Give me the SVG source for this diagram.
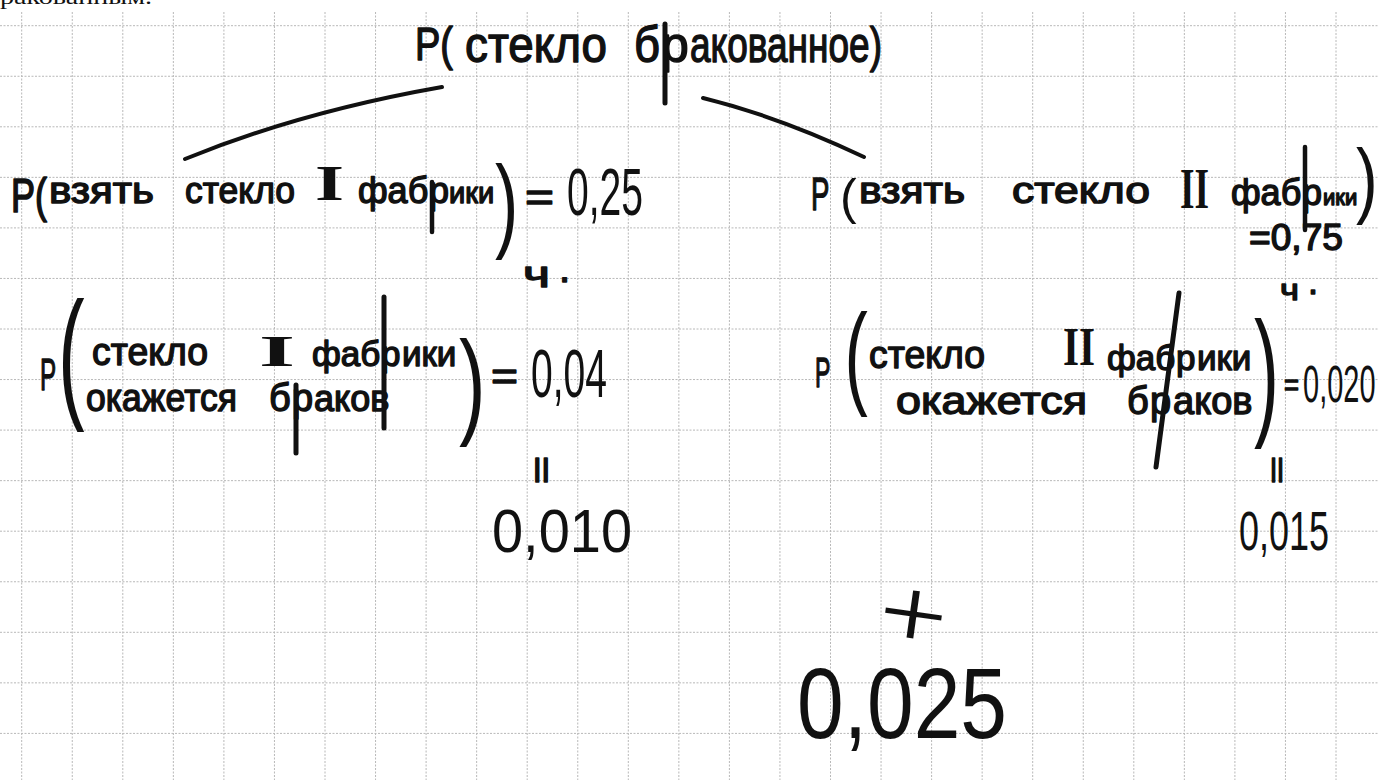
<svg xmlns="http://www.w3.org/2000/svg" width="1378" height="780" viewBox="0 0 1378 780">
  <style>
    .grid line { stroke: #b8b8b8; stroke-width: 1; stroke-dasharray: 2 1.5; }
    .hw { font-family: "Liberation Sans", "DejaVu Sans", sans-serif; fill: #111; }
    .st { stroke: #111; stroke-width: 1.4; stroke-linejoin: round; }
    .rm { font-family: "Liberation Serif", serif; font-weight: bold; fill: #111; }
    .pen { stroke: #111; fill: none; stroke-linecap: round; }
    .thin { font-family: "Roboto", "Liberation Sans", sans-serif; font-weight: 300; fill: #111; }
    .cap { font-family: "Liberation Serif", serif; fill: #111; }
  </style>

  <rect width="1378" height="780" fill="#fff"/>

  <!-- squared notebook paper -->
  <g class="grid" id="grid">
    <line x1="21.7" y1="12" x2="21.7" y2="780"/>
    <line x1="72.25" y1="12" x2="72.25" y2="780"/>
    <line x1="122.8" y1="12" x2="122.8" y2="780"/>
    <line x1="173.35" y1="12" x2="173.35" y2="780"/>
    <line x1="223.9" y1="12" x2="223.9" y2="780"/>
    <line x1="274.45" y1="12" x2="274.45" y2="780"/>
    <line x1="325" y1="12" x2="325" y2="780"/>
    <line x1="375.55" y1="12" x2="375.55" y2="780"/>
    <line x1="426.1" y1="12" x2="426.1" y2="780"/>
    <line x1="476.65" y1="12" x2="476.65" y2="780"/>
    <line x1="527.2" y1="12" x2="527.2" y2="780"/>
    <line x1="577.75" y1="12" x2="577.75" y2="780"/>
    <line x1="628.3" y1="12" x2="628.3" y2="780"/>
    <line x1="678.85" y1="12" x2="678.85" y2="780"/>
    <line x1="729.4" y1="12" x2="729.4" y2="780"/>
    <line x1="779.95" y1="12" x2="779.95" y2="780"/>
    <line x1="830.5" y1="12" x2="830.5" y2="780"/>
    <line x1="881.05" y1="12" x2="881.05" y2="780"/>
    <line x1="931.6" y1="12" x2="931.6" y2="780"/>
    <line x1="982.15" y1="12" x2="982.15" y2="780"/>
    <line x1="1032.7" y1="12" x2="1032.7" y2="780"/>
    <line x1="1083.25" y1="12" x2="1083.25" y2="780"/>
    <line x1="1133.8" y1="12" x2="1133.8" y2="780"/>
    <line x1="1184.35" y1="12" x2="1184.35" y2="780"/>
    <line x1="1234.9" y1="12" x2="1234.9" y2="780"/>
    <line x1="1285.45" y1="12" x2="1285.45" y2="780"/>
    <line x1="1336" y1="12" x2="1336" y2="780"/>
    <line x1="0" y1="25.7" x2="1378" y2="25.7"/>
    <line x1="0" y1="76.25" x2="1378" y2="76.25"/>
    <line x1="0" y1="126.8" x2="1378" y2="126.8"/>
    <line x1="0" y1="177.35" x2="1378" y2="177.35"/>
    <line x1="0" y1="227.9" x2="1378" y2="227.9"/>
    <line x1="0" y1="278.45" x2="1378" y2="278.45"/>
    <line x1="0" y1="329" x2="1378" y2="329"/>
    <line x1="0" y1="379.55" x2="1378" y2="379.55"/>
    <line x1="0" y1="430.1" x2="1378" y2="430.1"/>
    <line x1="0" y1="480.65" x2="1378" y2="480.65"/>
    <line x1="0" y1="531.2" x2="1378" y2="531.2"/>
    <line x1="0" y1="581.75" x2="1378" y2="581.75"/>
    <line x1="0" y1="632.3" x2="1378" y2="632.3"/>
    <line x1="0" y1="682.85" x2="1378" y2="682.85"/>
    <line x1="0" y1="733.4" x2="1378" y2="733.4"/>
  </g>

  <!-- end of the preceding printed line -->
  <g id="caption">
    <text class="cap" x="0" y="4" font-size="22" textLength="152" lengthAdjust="spacingAndGlyphs">ракованным.</text>
  </g>

  <!-- tree branches -->
  <g id="connectors">
    <path class="pen" d="M185 159 Q 300 112 442 87" stroke-width="4"/>
    <path class="pen" d="M703 98 Q 780 117 864 157" stroke-width="4"/>
  </g>

  <!-- root event -->
  <g id="event">
    <text class="hw st" x="415" y="60" font-size="46" textLength="38" lengthAdjust="spacingAndGlyphs">P(</text>
    <text class="hw st" x="465" y="62" font-size="50" textLength="142" lengthAdjust="spacingAndGlyphs">стекло</text>
    <text class="hw st" x="634" y="62" font-size="50" textLength="26" lengthAdjust="spacingAndGlyphs">б</text>
    <text class="hw st" x="661" y="62" font-size="50">р</text>
    <line class="pen" x1="665" y1="24" x2="665" y2="103" stroke-width="5"/>
    <text class="hw st" x="690" y="62" font-size="50" textLength="192" lengthAdjust="spacingAndGlyphs">акованное)</text>
  </g>

  <!-- branch 1: glass from factory I -->
  <g id="branch-1">
    <text class="hw st" transform="translate(11 212) scale(0.9 1.2)" font-size="40">P(</text>
    <text class="hw st" x="49" y="203" font-size="36" textLength="105" lengthAdjust="spacingAndGlyphs">взять</text>
    <text class="hw st" x="185" y="203" font-size="36" textLength="110" lengthAdjust="spacingAndGlyphs">стекло</text>
    <text class="rm" x="315" y="200" font-size="50" textLength="29" lengthAdjust="spacingAndGlyphs">I</text>
    <text class="hw st" x="358" y="203" font-size="36">фаб</text>
    <text class="hw st" x="429" y="203" font-size="36">р</text>
    <line class="pen" x1="432" y1="182" x2="432" y2="232" stroke-width="4.5"/>
    <text class="hw st" x="449" y="203" font-size="29">ики</text>
    <text class="hw" transform="translate(495 238) scale(1.4 2.085)" font-size="50">)</text>
    <text class="hw st" x="525" y="211" font-size="40" textLength="29" lengthAdjust="spacingAndGlyphs">=</text>
    <text class="hw" x="567" y="215" font-size="66" textLength="76" lengthAdjust="spacingAndGlyphs">0,25</text>
    <text class="hw st" x="523" y="287" font-size="36" textLength="27" lengthAdjust="spacingAndGlyphs">ч</text>
    <text class="hw st" x="559" y="282" font-size="40">.</text>
  </g>

  <!-- branch 2: glass from factory II -->
  <g id="branch-2">
    <text class="hw st" transform="translate(811 210) scale(0.6 1)" font-size="46">P</text>
    <text class="hw" transform="translate(840 213.5)" font-size="50">(</text>
    <text class="hw st" x="859" y="203" font-size="36" textLength="106" lengthAdjust="spacingAndGlyphs">взять</text>
    <text class="hw st" x="1012" y="203" font-size="36" textLength="138" lengthAdjust="spacingAndGlyphs">стекло</text>
    <text class="rm" x="1180" y="208" font-size="58" textLength="29" lengthAdjust="spacingAndGlyphs">II</text>
    <text class="hw st" x="1231" y="205" font-size="36">фаб</text>
    <text class="hw st" x="1302" y="205" font-size="36">р</text>
    <line class="pen" x1="1305" y1="147" x2="1305" y2="230" stroke-width="4.5"/>
    <text class="hw st" x="1323" y="205" font-size="22">ики</text>
    <text class="hw" transform="translate(1356 207.6) scale(1.3 1.66)" font-size="50">)</text>
    <text class="hw st" x="1249" y="250" font-size="36" textLength="94" lengthAdjust="spacingAndGlyphs">=0,75</text>
    <text class="hw st" x="1280" y="300" font-size="30" textLength="19" lengthAdjust="spacingAndGlyphs">ч</text>
    <text class="hw st" x="1308" y="294" font-size="36">.</text>
  </g>

  <!-- conditional probability for factory I -->
  <g id="cond-1">
    <text class="hw st" transform="translate(40 390) scale(0.55 1)" font-size="44">P</text>
    <text class="hw" transform="translate(58 402) scale(1.6 2.85)" font-size="50">(</text>
    <text class="hw st" x="92" y="365" font-size="38" textLength="116" lengthAdjust="spacingAndGlyphs">стекло</text>
    <text class="rm" x="259" y="366" font-size="44" textLength="36" lengthAdjust="spacingAndGlyphs">I</text>
    <text class="hw st" x="312" y="366" font-size="35">фаб</text>
    <text class="hw st" x="381" y="366" font-size="35">р</text>
    <line class="pen" x1="384" y1="297" x2="384" y2="428" stroke-width="5"/>
    <text class="hw st" x="402" y="366" font-size="35">ики</text>
    <text class="hw st" x="86" y="411" font-size="38" textLength="151" lengthAdjust="spacingAndGlyphs">окажется</text>
    <text class="hw st" x="269" y="411" font-size="38">б</text>
    <text class="hw st" x="292" y="411" font-size="38">р</text>
    <line class="pen" x1="296" y1="385" x2="296" y2="453" stroke-width="5"/>
    <text class="hw st" x="314" y="411" font-size="36">аков</text>
    <text class="hw" transform="translate(459 422.7) scale(1.6 2.32)" font-size="50">)</text>
    <text class="hw st" x="491" y="390" font-size="40" textLength="27" lengthAdjust="spacingAndGlyphs">=</text>
    <text class="hw" x="531" y="397" font-size="68" textLength="76" lengthAdjust="spacingAndGlyphs">0,04</text>
  </g>

  <!-- conditional probability for factory II -->
  <g id="cond-2">
    <text class="hw st" transform="translate(815 387) scale(0.55 1)" font-size="42">P</text>
    <text class="hw" transform="translate(844.4 393) scale(1.4 2.28)" font-size="50">(</text>
    <text class="hw st" x="869" y="368" font-size="38" textLength="116" lengthAdjust="spacingAndGlyphs">стекло</text>
    <text class="rm" x="1063" y="365" font-size="54" textLength="32" lengthAdjust="spacingAndGlyphs">II</text>
    <text class="hw st" x="1107" y="370" font-size="35">фаб</text>
    <text class="hw st" x="1176" y="370" font-size="35">р</text>
    <line class="pen" x1="1179" y1="293" x2="1156" y2="467" stroke-width="5"/>
    <text class="hw st" x="1197" y="370" font-size="35">ики</text>
    <text class="hw st" x="896" y="414" font-size="38" textLength="191" lengthAdjust="spacingAndGlyphs">окажется</text>
    <text class="hw st" x="1127" y="414" font-size="38">б</text>
    <text class="hw st" x="1150" y="414" font-size="38">р</text>
    <text class="hw st" x="1173" y="414" font-size="38">аков</text>
    <text class="hw" transform="translate(1254 420) scale(1.5 2.83)" font-size="50">)</text>
    <text class="hw st" x="1284" y="395" font-size="30" textLength="15" lengthAdjust="spacingAndGlyphs">=</text>
    <text class="hw" transform="translate(1303 402) scale(1 1.78)" font-size="29">0,020</text>
  </g>

  <!-- products -->
  <g id="product-1">
    <text class="hw st" x="533" y="477" font-size="26" textLength="17" lengthAdjust="spacingAndGlyphs">||</text>
    <text class="hw" x="492" y="552" font-size="62" textLength="140" lengthAdjust="spacingAndGlyphs">0,010</text>
  </g>
  <g id="product-2">
    <text class="hw st" x="1270" y="477" font-size="26" textLength="14" lengthAdjust="spacingAndGlyphs">||</text>
    <text class="hw" transform="translate(1239 550) scale(1 1.55)" font-size="36">0,015</text>
  </g>

  <!-- total probability -->
  <g id="sum">
    <text class="thin" transform="translate(877 640) rotate(8) scale(1.45 1.15)" font-size="80">+</text>
    <text class="hw" x="797" y="738" font-size="100" textLength="210" lengthAdjust="spacingAndGlyphs">0,025</text>
  </g>
</svg>
